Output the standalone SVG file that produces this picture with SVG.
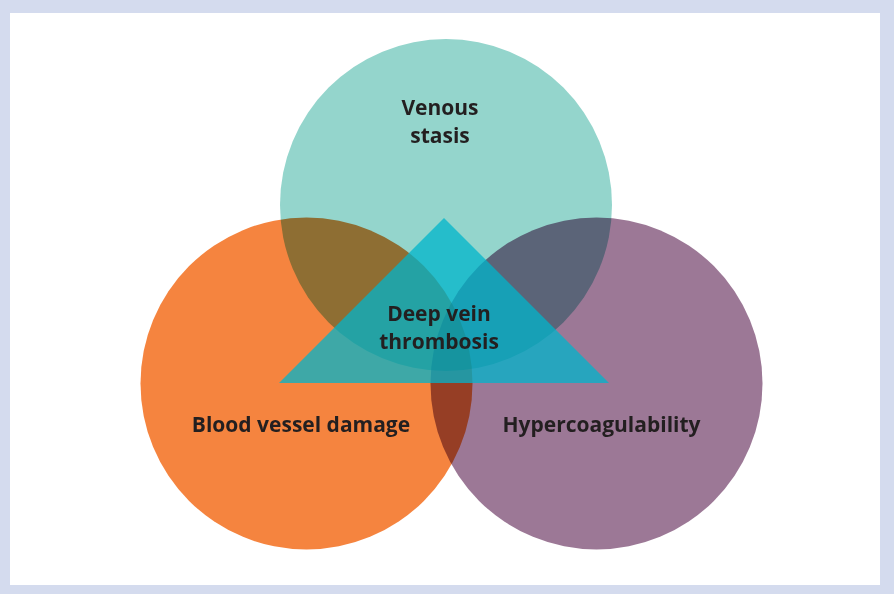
<svg xmlns="http://www.w3.org/2000/svg" width="894" height="594" viewBox="0 0 894 594">
<style>
.c{mix-blend-mode:multiply}
.t{font-family:"Open Sans","Liberation Sans",sans-serif;font-weight:bold;font-size:21px;fill:#231f20;text-anchor:middle}
</style>
<rect width="894" height="594" fill="#d4dbee"/>
<rect x="10" y="13" width="870" height="572" fill="#ffffff"/>
<g style="isolation:isolate">
<g id="venous-stasis"><circle class="c" cx="446" cy="205" r="166" fill="#94d5cc"/></g>
<g id="blood-vessel-damage"><circle class="c" cx="306.5" cy="383.5" r="166" fill="#f5843f"/></g>
<g id="hypercoagulability"><circle class="c" cx="596.5" cy="383.5" r="166" fill="#9c7896"/></g>
<g id="dvt"><polygon points="444,218 609,383 279,383" fill="#00b4cb" fill-opacity="0.75"/></g>
</g>
<text class="t" x="440" y="115">Venous</text>
<text class="t" x="440" y="143">stasis</text>
<text class="t" x="439" y="321">Deep vein</text>
<text class="t" x="439" y="349">thrombosis</text>
<text class="t" x="301" y="432">Blood vessel damage</text>
<text class="t" x="601.5" y="432">Hypercoagulability</text>
</svg>
